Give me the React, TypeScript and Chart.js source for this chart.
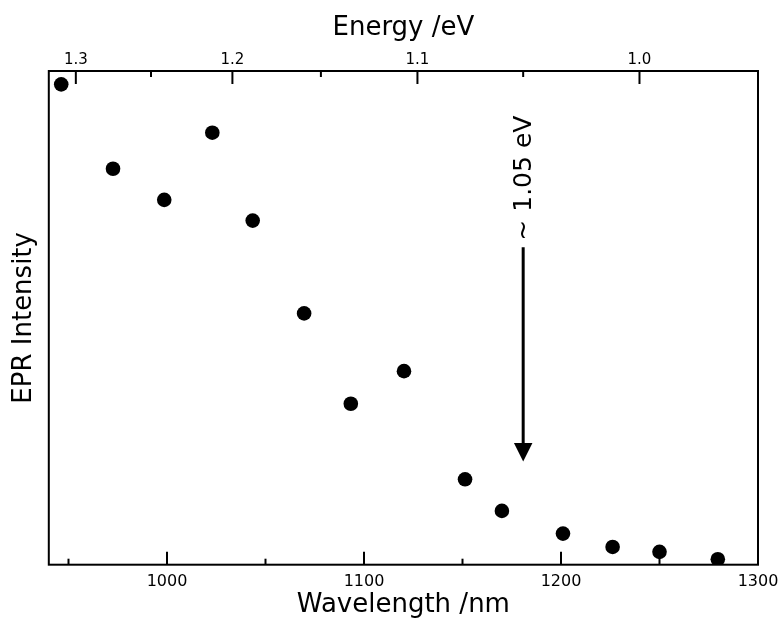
import React, { useEffect, useRef } from 'react';
import { Chart, registerables } from 'chart.js';

Chart.register(...registerables);

// Data
const wavelengths = [946.3, 972.6, 998.6, 1023.0, 1043.5, 1069.6, 1093.3, 1120.3, 1151.3, 1170.0, 1201.0, 1226.2, 1250.0, 1279.6];
const eprIntensity = [97.3, 80.2, 73.9, 87.5, 69.7, 50.9, 32.6, 39.2, 17.3, 10.9, 6.3, 3.6, 2.6, 1.1];

const wavelengthTicks = [1000, 1100, 1200, 1300];
const wavelengthMinorTicks = [950, 1050, 1150, 1250];
const energyTicks = [1.3, 1.2, 1.1, 1.0];
const energyMinorTicks = [1.25, 1.15, 1.05];

const HC = 1239.84; // eV·nm
const arrowEnergy = 1.05;
const arrowLabel = '~ 1.05 eV';
const arrowStartValue = 64.3;
const arrowEndValue = 20.9;
const arrowLabelCenterValue = 78.3;

const FONT = "'DejaVu Sans', 'Liberation Sans', Arial, sans-serif";

const framePlugin = {
  id: 'frameTicks',
  beforeDatasetsDraw(chart: any) {
    const { ctx, chartArea: a, scales } = chart;
    const x = scales.x;
    ctx.save();
    ctx.strokeStyle = '#000';
    ctx.lineWidth = 2;
    const bottomTick = (v: number, len: number) => {
      const px = x.getPixelForValue(v);
      ctx.beginPath();
      ctx.moveTo(px, a.bottom);
      ctx.lineTo(px, a.bottom - len);
      ctx.stroke();
    };
    const topTick = (v: number, len: number) => {
      const px = x.getPixelForValue(v);
      ctx.beginPath();
      ctx.moveTo(px, a.top);
      ctx.lineTo(px, a.top + len);
      ctx.stroke();
    };
    wavelengthTicks.forEach((v) => bottomTick(v, 13));
    wavelengthMinorTicks.forEach((v) => bottomTick(v, 6));
    energyTicks.forEach((e) => topTick(HC / e, 13));
    energyMinorTicks.forEach((e) => topTick(HC / e, 6));
    ctx.strokeRect(a.left, a.top, a.right - a.left, a.bottom - a.top);
    ctx.restore();
  },
  afterDatasetsDraw(chart: any) {
    const { ctx, scales } = chart;
    const x = scales.x;
    const y = scales.y;
    const px = x.getPixelForValue(HC / arrowEnergy);
    const y0 = y.getPixelForValue(arrowStartValue);
    const y1 = y.getPixelForValue(arrowEndValue);
    const head = 18.5;
    ctx.save();
    ctx.strokeStyle = '#000';
    ctx.fillStyle = '#000';
    ctx.lineWidth = 3;
    ctx.beginPath();
    ctx.moveTo(px, y0);
    ctx.lineTo(px, y1 - head + 2);
    ctx.stroke();
    ctx.beginPath();
    ctx.moveTo(px, y1);
    ctx.lineTo(px - head / 2, y1 - head);
    ctx.lineTo(px + head / 2, y1 - head);
    ctx.closePath();
    ctx.fill();
    ctx.translate(px, y.getPixelForValue(arrowLabelCenterValue));
    ctx.rotate(-Math.PI / 2);
    ctx.font = `25px ${FONT}`;
    ctx.textAlign = 'center';
    ctx.textBaseline = 'middle';
    ctx.fillText(arrowLabel, 0, 1);
    ctx.restore();
  },
};

export default function App() {
  const canvasRef = useRef<HTMLCanvasElement | null>(null);

  useEffect(() => {
    const canvas = canvasRef.current;
    if (!canvas) return;
    const chart = new Chart(canvas, {
      type: 'scatter',
      data: {
        datasets: [
          {
            label: 'EPR Intensity',
            data: wavelengths.map((w, i) => ({ x: w, y: eprIntensity[i] })),
            backgroundColor: '#000',
            borderColor: '#000',
            borderWidth: 0,
            pointRadius: 7.3,
            pointHoverRadius: 7.3,
            showLine: false,
          },
        ],
      },
      options: {
        animation: false,
        responsive: false,
        devicePixelRatio: 1,
        layout: { padding: { left: 0, right: 23, top: 0, bottom: 0 } },
        plugins: {
          legend: { display: false },
          tooltip: { enabled: false },
        },
        scales: {
          x: {
            type: 'linear',
            position: 'bottom',
            min: 940,
            max: 1300,
            afterBuildTicks: (s: any) => {
              s.ticks = wavelengthTicks.map((v) => ({ value: v }));
            },
            afterFit: (s: any) => {
              s.height = 56.3;
              s.paddingLeft = 0;
              s.paddingRight = 0;
            },
            grid: { display: false, drawTicks: false },
            border: { display: false },
            ticks: {
              autoSkip: false,
              maxRotation: 0,
              padding: 8,
              color: '#000',
              font: { family: FONT, size: 16 },
              callback: (v: any) => String(v),
            },
            title: {
              display: true,
              text: 'Wavelength /nm',
              color: '#000',
              font: { family: FONT, size: 26 },
              padding: { top: 0, bottom: 0 },
            },
          },
          x2: {
            type: 'linear',
            position: 'top',
            min: 940,
            max: 1300,
            afterBuildTicks: (s: any) => {
              s.ticks = energyTicks.map((e) => ({ value: HC / e }));
            },
            afterFit: (s: any) => {
              s.height = 71;
              s.paddingLeft = 0;
              s.paddingRight = 0;
            },
            grid: { display: false, drawTicks: false },
            border: { display: false },
            ticks: {
              autoSkip: false,
              maxRotation: 0,
              padding: 2,
              color: '#000',
              font: { family: FONT, size: 15 },
              callback: (v: any) => (HC / Number(v)).toFixed(1),
            },
            title: {
              display: true,
              text: 'Energy /eV',
              color: '#000',
              font: { family: FONT, size: 26 },
              padding: { top: 13, bottom: 0 },
            },
          },
          y: {
            type: 'linear',
            position: 'left',
            min: 0,
            max: 100,
            afterFit: (s: any) => {
              s.width = 48.8;
              s.paddingTop = 0;
              s.paddingBottom = 0;
            },
            grid: { display: false, drawTicks: false },
            border: { display: false },
            ticks: { display: false },
            title: {
              display: true,
              text: 'EPR Intensity',
              color: '#000',
              font: { family: FONT, size: 26 },
              padding: { top: 9, bottom: 0 },
            },
          },
        },
      },
      plugins: [framePlugin],
    } as any);
    return () => chart.destroy();
  }, []);

  return (
    <div style={{ position: 'fixed', left: 0, top: 0, width: 781, height: 621, background: '#fff' }}>
      <canvas ref={canvasRef} width={781} height={621} style={{ width: 781, height: 621, display: 'block' }} />
    </div>
  );
}
